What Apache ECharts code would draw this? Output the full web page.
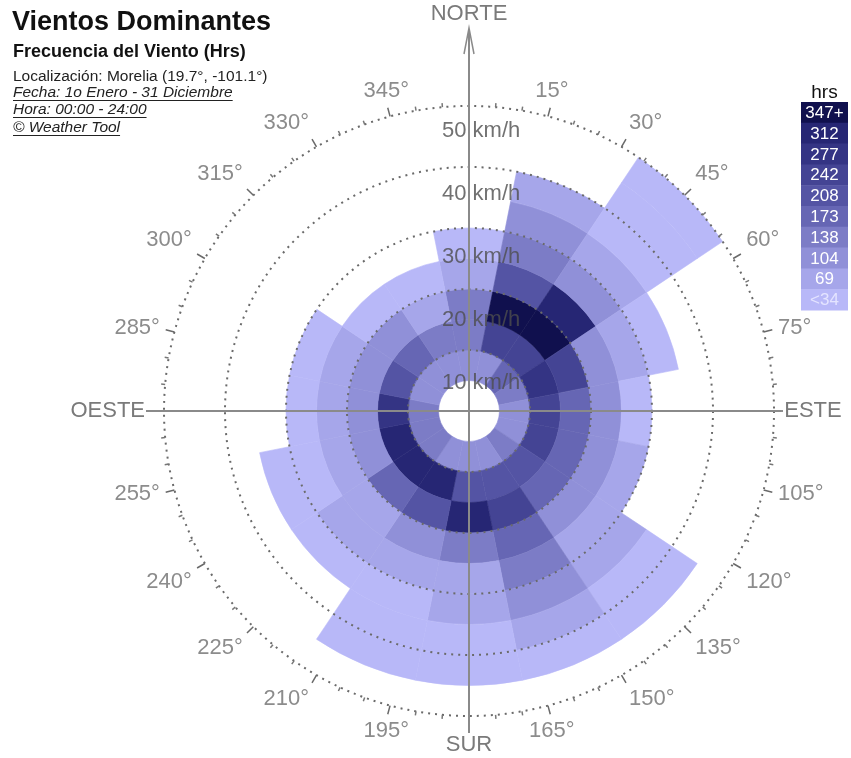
<!DOCTYPE html>
<html><head><meta charset="utf-8">
<script src="https://cdn.jsdelivr.net/npm/echarts@6/dist/echarts.min.js"></script>
<style>html,body{margin:0;padding:0;background:#fff}#c{width:851px;height:758px}</style>
</head><body><div id="c"></div><script>
// ---------------- DATA ----------------
const directions = ['N','NNE','NE','ENE','E','ESE','SE','SSE','S','SSW','SW','WSW','W','WNW','NW','NNW'];
const speedEdges = [0,5,10,15,20,25,30,35,40,45,50]; // km/h band edges (0-5 = calm, not drawn)
// hours per speed band, one value per direction (null = no wind in that band)
const hrs_05_10 = [85, 85,155,120, 85, 85,120, 85, 85, 85,120,120,120, 85, 85, 85];
const hrs_10_15 = [120,225,225,260,225,225,190,190,190,295,295,295,260,190,155,120];
const hrs_15_20 = [120,360,360,225,155,155,155,225,295,190,155, 85, 85, 85, 85, 50];
const hrs_20_25 = [50,190,295, 85, 85, 85, 85,155,120, 85, 50, 50, 50, 50, 20, 20];
const hrs_25_30 = [20,120, 85, 50, 20, 50, 50,120, 50, 50, 50, 20, 20, 20,null,null];
const hrs_30_35 = [null,85, 50, 20,null,null,50, 85, 50, 20, 20, 20,null,null,null,null];
const hrs_35_40 = [null,50, 20,null,null,null,20, 50, 20, 20,null,null,null,null,null,null];
const hrs_40_45 = [null,null,20,null,null,null,20, 20, 20, 20,null,null,null,null,null,null];
const hrs_45_50 = [null,null,20,null,null,null,null,null,null,null,null,null,null,null,null,null];
const legendLabels = ['347+','312','277','242','208','173','138','104','69','<34'];
const legendBreaks = [34,69,104,138,173,208,242,277,312];
const radiusTicks = [10,20,30,40,50];
const degreeStep = 15;

// ---------------- STYLE ----------------
const palette = ['#b8b8f8','#a6a6ea','#9090d8','#7c7cc6','#6666b4','#5454a4','#444494','#343484','#262674','#10104e'];
const FONT = '"Liberation Sans", Arial, sans-serif';
const CX = 469, CY = 411, R = 305;
const bands = [hrs_05_10,hrs_10_15,hrs_15_20,hrs_20_25,hrs_25_30,hrs_30_35,hrs_35_40,hrs_40_45,hrs_45_50];

function colorFor(h){ let k = 0; for (const b of legendBreaks) if (h >= b) k++; return palette[k]; }

const chart = echarts.init(document.getElementById('c'), null, {renderer:'canvas', width:851, height:758});

const series = [{
  type:'bar', coordinateSystem:'polar', polarIndex:0, stack:'rose', barCategoryGap:'0%', silent:true,
  itemStyle:{color:'rgba(0,0,0,0)'},
  data: directions.map(() => speedEdges[1]-speedEdges[0])
}];
bands.forEach((arr, i) => {
  series.push({
    type:'bar', coordinateSystem:'polar', polarIndex:0, stack:'rose', barCategoryGap:'0%', silent:true,
    data: arr.map(h => h == null ? '-' : {
      value: speedEdges[i+2]-speedEdges[i+1],
      itemStyle:{color:colorFor(h), borderColor:colorFor(h), borderWidth:0.6}
    })
  });
});
series.push({
  type:'scatter', coordinateSystem:'polar', polarIndex:0, symbolSize:0, silent:true, z:20,
  data: radiusTicks.map(t => [t * 1.035 - 5.8, 0]),
  label:{show:true, position:[-27,0], align:'left', verticalAlign:'middle',
    formatter: p => radiusTicks[p.dataIndex] + ' km/h',
    fontFamily:FONT, fontSize:22, color:'#4d4d4d'}
});

// measure text for underlines
const mctx = document.createElement('canvas').getContext('2d');
function tw(text, font){ mctx.font = font; return mctx.measureText(text).width; }

const graphic = [];
function addText(text, x, y, font, fill){
  graphic.push({type:'text', z:100, style:{text, x, y, font, fill, align:'left', verticalAlign:'middle'}});
}
addText('Vientos Dominantes', 12, 23, 'bold 27px ' + FONT, '#111');
addText('Frecuencia del Viento (Hrs)', 13, 52, 'bold 18px ' + FONT, '#111');
addText('Localización: Morelia (19.7°, -101.1°)', 13, 77, '15.5px ' + FONT, '#222');
const under = [['Fecha: 1o Enero - 31 Diciembre', 93], ['Hora: 00:00 - 24:00', 110], ['© Weather Tool', 128]];
under.forEach(([t, y]) => {
  const f = 'italic 15.5px ' + FONT;
  addText(t, 13, y, f, '#222');
  graphic.push({type:'line', z:100, shape:{x1:13, y1:y+7.5, x2:13+tw(t, f), y2:y+7.5}, style:{stroke:'#222', lineWidth:1}});
});

// compass texts
const cf = '22px ' + FONT, cc = '#7a7a7a';
graphic.push({type:'text', z:100, style:{text:'NORTE', x:CX, y:14, font:cf, fill:cc, align:'center', verticalAlign:'middle'}});
graphic.push({type:'text', z:100, style:{text:'SUR', x:CX, y:745, font:cf, fill:cc, align:'center', verticalAlign:'middle'}});
graphic.push({type:'text', z:100, style:{text:'ESTE', x:813, y:CY, font:cf, fill:cc, align:'center', verticalAlign:'middle'}});
graphic.push({type:'text', z:100, style:{text:'OESTE', x:145, y:CY, font:cf, fill:cc, align:'right', verticalAlign:'middle'}});
// axes lines
graphic.push({type:'line', z:90, shape:{x1:146, y1:CY, x2:781, y2:CY}, style:{stroke:'#8a8a8a', lineWidth:2}});
graphic.push({type:'line', z:90, shape:{x1:CX, y1:30, x2:CX, y2:733}, style:{stroke:'#8a8a8a', lineWidth:2}});
graphic.push({type:'polyline', z:90, shape:{points:[[CX-5,54],[CX,28],[CX+5,54]]}, style:{stroke:'#8a8a8a', lineWidth:1.5, fill:null}});

// legend
const LX = 801, LY = 102, LW = 47, LH = 20.8;
graphic.push({type:'text', z:100, style:{text:'hrs', x:LX+LW/2, y:93, font:'19px ' + FONT, fill:'#111', align:'center', verticalAlign:'middle'}});
legendLabels.forEach((lab, i) => {
  graphic.push({type:'rect', z:100, shape:{x:LX, y:LY+i*LH, width:LW, height:LH+0.5}, style:{fill:palette[palette.length-1-i]}});
  graphic.push({type:'text', z:101, style:{text:lab, x:LX+LW/2, y:LY+i*LH+LH/2+1, font:'17px ' + FONT, fill: i === legendLabels.length-1 ? '#e4e4ff' : '#ffffff', align:'center', verticalAlign:'middle'}});
});

const option = {
  animation:false,
  backgroundColor:'#ffffff',
  polar:[{center:[CX,CY], radius:R},{center:[CX,CY], radius:R}],
  angleAxis:[
    {polarIndex:0, type:'category', data:directions, startAngle:90 + 180/directions.length, clockwise:true, boundaryGap:true,
     axisLine:{show:false}, axisTick:{show:false}, axisLabel:{show:false}, splitLine:{show:false}},
    {polarIndex:1, type:'value', min:0, max:360, interval:degreeStep, startAngle:90, clockwise:true, z:10,
     axisLine:{show:false},
     axisTick:{show:true, length:9, lineStyle:{color:'#6a6a6a', width:1.5}},
     minorTick:{show:true, splitNumber:3, length:4, lineStyle:{color:'#777', width:1.5}},
     splitLine:{show:false},
     axisLabel:{show:true, margin:15, fontFamily:FONT, fontSize:22, color:'#8c8c8c',
       formatter: v => (v % 90 === 0) ? '' : v + '°'}}
  ],
  radiusAxis:[
    {polarIndex:0, type:'value', min:0, max:radiusTicks[radiusTicks.length-1], interval:radiusTicks[0], z:10,
     axisLine:{show:false}, axisTick:{show:false}, axisLabel:{show:false},
     splitLine:{show:true, lineStyle:{color:'#6a6a6a', width:2, type:[2,5]}}},
    {polarIndex:1, type:'value', min:0, max:1, show:false}
  ],
  graphic: graphic,
  series: series
};
chart.setOption(option);
</script></body></html>
